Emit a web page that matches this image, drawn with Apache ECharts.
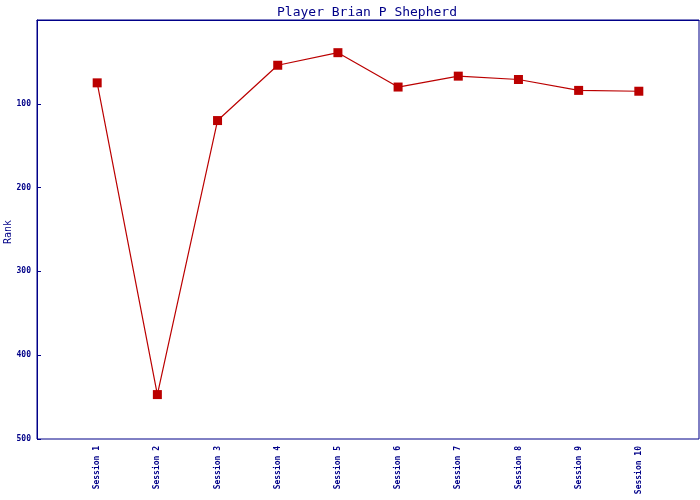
<!DOCTYPE html>
<html>
<head>
<meta charset="utf-8">
<script src="https://cdn.jsdelivr.net/npm/echarts@6/dist/echarts.min.js"></script>
<style>html,body{margin:0;padding:0;background:#fff;}#c{width:700px;height:500px;}</style>
</head>
<body>
<div id="c"></div>
<script>
var titleText = "Player Brian P Shepherd";
var yAxisName = "Rank";
var sessions = ["Session 1","Session 2","Session 3","Session 4","Session 5","Session 6","Session 7","Session 8","Session 9","Session 10"];
var ranks = [75, 447, 120, 54, 39, 80, 67, 71, 84, 85];
var yTicks = [0, 100, 200, 300, 400, 500];

var navy = "#000088";
var red = "#bb0000";
var font = "DejaVu Sans Mono";

var cats = [""].concat(sessions).concat([""]);
var vals = [null].concat(ranks).concat([null]);

var chart = echarts.init(document.getElementById('c'), null, {renderer: 'canvas'});
chart.setOption({
  animation: false,
  backgroundColor: '#ffffff',
  title: {
    text: titleText,
    left: 362, top: 1,
    textAlign: 'center',
    textStyle: {fontFamily: font, fontSize: 13, fontWeight: 'normal', color: navy}
  },
  graphic: [{
    type: 'text',
    x: 8, y: 232,
    rotation: Math.PI / 2,
    style: {text: yAxisName, fill: navy, font: '10px "DejaVu Sans Mono"', textAlign: 'center', textVerticalAlign: 'middle'}
  }],
  grid: {left: 37, right: 1, top: 20, bottom: 61, containLabel: false, outerBoundsMode: 'none', show: true, borderColor: navy, borderWidth: 1, backgroundColor: 'transparent'},
  xAxis: {
    type: 'category',
    data: cats,
    boundaryGap: false,
    axisLine: {lineStyle: {color: navy, width: 1}},
    axisTick: {show: false},
    splitLine: {show: false},
    axisLabel: {rotate: 90, interval: 0, margin: 7, color: navy, fontFamily: font, fontSize: 8, fontWeight: 'bold'}
  },
  yAxis: {
    type: 'value',
    inverse: true,
    min: yTicks[0], max: yTicks[yTicks.length - 1], interval: 100,
    axisLine: {show: true, lineStyle: {color: navy, width: 1}},
    axisTick: {show: true, inside: true, length: 4, lineStyle: {color: navy}},
    splitLine: {show: false},
    axisLabel: {showMinLabel: false, margin: 6, color: navy, fontFamily: font, fontSize: 8, fontWeight: 'bold'}
  },
  series: [{
    type: 'line',
    data: vals,
    symbol: 'rect',
    symbolSize: 9,
    showSymbol: true,
    lineStyle: {color: red, width: 1.2},
    itemStyle: {color: red, borderWidth: 0}
  }]
});
</script>
</body>
</html>
